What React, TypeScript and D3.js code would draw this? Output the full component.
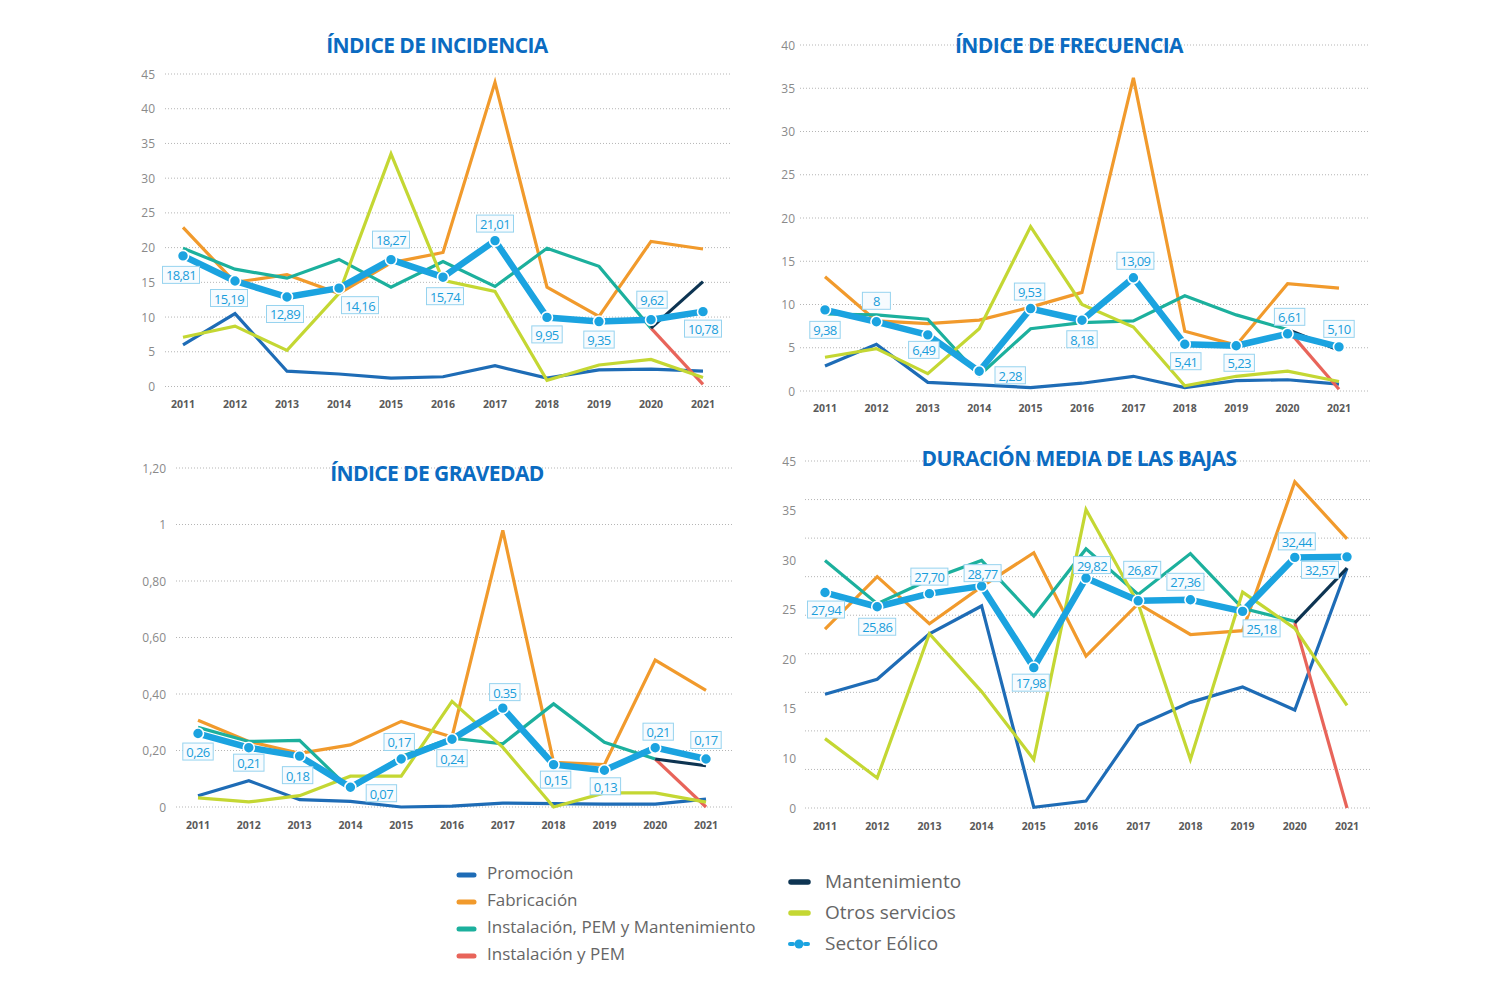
import React from "react";
import * as d3 from "d3";

// ---------- shared categories ----------
const years = ["2011", "2012", "2013", "2014", "2015", "2016", "2017", "2018", "2019", "2020", "2021"];
const seriesNames = [
  "Promoción",
  "Fabricación",
  "Instalación, PEM y Mantenimiento",
  "Instalación y PEM",
  "Mantenimiento",
  "Otros servicios",
  "Sector Eólico",
];
const seriesColors = ["#1e6cb6", "#f19a2c", "#1cb09d", "#e8645a", "#0d3452", "#c4d733", "#1ba3e0"];

// ---------- ÍNDICE DE INCIDENCIA ----------
const incPromocion = [6.0, 10.5, 2.2, 1.8, 1.2, 1.4, 3.0, 1.2, 2.4, 2.5, 2.2];
const incFabricacion = [22.9, 15.0, 16.1, 13.4, 17.8, 19.3, 43.8, 14.3, 10.1, 20.9, 19.8];
const incInstPemMant = [19.9, 16.9, 15.6, 18.3, 14.3, 18.0, 14.4, 19.9, 17.3, 8.4, null];
const incInstPem = [null, null, null, null, null, null, null, null, null, 8.4, 0.3];
const incMantenimiento = [null, null, null, null, null, null, null, null, null, 8.4, 15.1];
const incOtros = [7.1, 8.7, 5.2, 13.4, 33.5, 15.3, 13.7, 0.9, 3.1, 3.9, 1.3];
const incSector = [18.81, 15.19, 12.89, 14.16, 18.27, 15.74, 21.01, 9.95, 9.35, 9.62, 10.78];
const incSectorLabels = ["18,81", "15,19", "12,89", "14,16", "18,27", "15,74", "21,01", "9,95", "9,35", "9,62", "10,78"];
const incTicks = [0, 5, 10, 15, 20, 25, 30, 35, 40, 45];
const incTickLabels = ["0", "5", "10", "15", "20", "25", "30", "35", "40", "45"];

// ---------- ÍNDICE DE FRECUENCIA ----------
const frePromocion = [2.9, 5.4, 1.0, 0.7, 0.4, 0.9, 1.7, 0.4, 1.2, 1.3, 0.8];
const freFabricacion = [13.2, 8.1, 7.8, 8.2, 9.7, 11.4, 36.2, 6.9, 5.3, 12.4, 11.9];
const freInstPemMant = [8.9, 8.8, 8.3, 1.8, 7.2, 7.9, 8.1, 11.0, 8.8, 7.1, null];
const freInstPem = [null, null, null, null, null, null, null, null, null, 7.1, 0.2];
const freMantenimiento = [null, null, null, null, null, null, null, null, null, 7.1, 4.7];
const freOtros = [3.9, 4.9, 2.0, 7.2, 19.0, 10.0, 7.4, 0.6, 1.7, 2.3, 1.1];
const freSector = [9.38, 8, 6.49, 2.28, 9.53, 8.18, 13.09, 5.41, 5.23, 6.61, 5.1];
const freSectorLabels = ["9,38", "8", "6,49", "2,28", "9,53", "8,18", "13,09", "5,41", "5,23", "6,61", "5,10"];
const freTicks = [0, 5, 10, 15, 20, 25, 30, 35, 40];
const freTickLabels = ["0", "5", "10", "15", "20", "25", "30", "35", "40"];

// ---------- ÍNDICE DE GRAVEDAD ----------
const graPromocion = [0.04, 0.093, 0.026, 0.02, 0.0, 0.003, 0.014, 0.012, 0.01, 0.01, 0.028];
const graFabricacion = [0.307, 0.232, 0.19, 0.22, 0.303, 0.248, 0.979, 0.158, 0.15, 0.52, 0.413];
const graInstPemMant = [0.282, 0.232, 0.236, 0.061, 0.179, 0.244, 0.224, 0.365, 0.229, 0.17, null];
const graInstPem = [null, null, null, null, null, null, null, null, null, 0.17, 0.0];
const graMantenimiento = [null, null, null, null, null, null, null, null, null, 0.17, 0.146];
const graOtros = [0.032, 0.018, 0.04, 0.109, 0.109, 0.374, 0.211, 0.0, 0.05, 0.05, 0.017];
const graSector = [0.26, 0.21, 0.18, 0.07, 0.17, 0.24, 0.35, 0.15, 0.13, 0.21, 0.17];
const graSectorLabels = ["0,26", "0,21", "0,18", "0,07", "0,17", "0,24", "0.35", "0,15", "0,13", "0,21", "0,17"];
const graTicks = [0, 0.2, 0.4, 0.6, 0.8, 1, 1.2];
const graTickLabels = ["0", "0,20", "0,40", "0,60", "0,80", "1", "1,20"];

// ---------- DURACIÓN MEDIA DE LAS BAJAS ----------
const durPromocion = [14.75, 16.7, 22.6, 26.2, 0.1, 0.9, 10.7, 13.7, 15.7, 12.7, 31.1];
const durFabricacion = [23.2, 30.0, 23.9, 28.7, 33.1, 19.7, 26.5, 22.5, 23.0, 42.3, 34.9];
const durInstPemMant = [32.1, 26.5, 29.6, 32.1, 24.9, 33.6, 27.7, 33.0, 25.9, 24.2, null];
const durInstPem = [null, null, null, null, null, null, null, null, null, 24.0, 0.0];
const durMantenimiento = [null, null, null, null, null, null, null, null, null, 24.0, 31.1];
const durOtros = [9.0, 3.9, 22.6, 15.1, 6.3, 38.7, 26.5, 6.3, 28.0, 23.3, 13.3];
// plotted positions of the Sector Eólico line as drawn in the source
const durSector = [27.94, 26.1, 27.8, 28.77, 18.2, 29.82, 26.87, 27.0, 25.5, 32.5, 32.57];
const durSectorLabels = ["27,94", "25,86", "27,70", "28,77", "17,98", "29,82", "26,87", "27,36", "25,18", "32,44", "32,57"];
const durGridTicks = [0, 5, 10, 15, 20, 25, 30, 35, 40, 45];
const durTickLabels = ["45", "35", "30", "25", "20", "15", "10", "0"];

// ---------- layout (positions only) ----------
type Layout = {
  title: string;
  titleX: number;
  titleY: number;
  xRange: [number, number];
  yRange: [number, number];
  gridX: [number, number];
  tickX: number;
  yearY: number;
  labelOffsets: [number, number][];
};

const layouts: Layout[] = [
  {
    title: "ÍNDICE DE INCIDENCIA",
    titleX: 437,
    titleY: 45,
    xRange: [183, 703],
    yRange: [386.5, 74],
    gridX: [165, 731],
    tickX: 155,
    yearY: 404,
    labelOffsets: [[-2, 19], [-6, 17], [-2, 17], [21, 17], [0, -20], [2, 19], [0, -17], [0, 17], [0, 18], [1, -20], [0, 17]],
  },
  {
    title: "ÍNDICE DE FRECUENCIA",
    titleX: 1069,
    titleY: 45,
    xRange: [825, 1339],
    yRange: [391, 45],
    gridX: [800, 1370],
    tickX: 795,
    yearY: 408,
    labelOffsets: [[0, 20], [0, -21], [-4, 15], [31, 4], [-1, -17], [0, 19], [2, -17], [1, 17], [3, 17], [2, -17], [0, -18]],
  },
  {
    title: "ÍNDICE DE GRAVEDAD",
    titleX: 437,
    titleY: 473,
    xRange: [198, 706],
    yRange: [807, 468],
    gridX: [176, 733],
    tickX: 166,
    yearY: 825,
    labelOffsets: [[0, 18], [0, 15], [-2, 19], [31, 6], [-2, -17], [0, 19], [2, -16], [2, 15], [1, 16], [3, -16], [0, -19]],
  },
  {
    title: "DURACIÓN MEDIA DE LAS BAJAS",
    titleX: 1079,
    titleY: 458,
    xRange: [825, 1347],
    yRange: [808, 461],
    gridX: [805, 1372],
    tickX: 796,
    yearY: 826,
    labelOffsets: [[1, 17], [0, 20], [0, -17], [1, -13], [-3, 15], [6, -13], [4, -31], [-5, -18], [19, 17], [2, -16], [-27, 13]],
  },
];

type PanelData = {
  series: (number | null)[][];
  sector: number[];
  sectorLabels: string[];
  yMax: number;
  gridTicks: number[];
  tickValues: number[] | null;
  tickLabels: string[];
};

const panels: PanelData[] = [
  {
    series: [incPromocion, incFabricacion, incInstPemMant, incInstPem, incMantenimiento, incOtros],
    sector: incSector,
    sectorLabels: incSectorLabels,
    yMax: 45,
    gridTicks: incTicks,
    tickValues: incTicks,
    tickLabels: incTickLabels,
  },
  {
    series: [frePromocion, freFabricacion, freInstPemMant, freInstPem, freMantenimiento, freOtros],
    sector: freSector,
    sectorLabels: freSectorLabels,
    yMax: 40,
    gridTicks: freTicks,
    tickValues: freTicks,
    tickLabels: freTickLabels,
  },
  {
    series: [graPromocion, graFabricacion, graInstPemMant, graInstPem, graMantenimiento, graOtros],
    sector: graSector,
    sectorLabels: graSectorLabels,
    yMax: 1.2,
    gridTicks: graTicks,
    tickValues: graTicks,
    tickLabels: graTickLabels,
  },
  {
    series: [durPromocion, durFabricacion, durInstPemMant, durInstPem, durMantenimiento, durOtros],
    sector: durSector,
    sectorLabels: durSectorLabels,
    yMax: 45,
    gridTicks: durGridTicks,
    tickValues: null,
    tickLabels: durTickLabels,
  },
];

const FONT = "'Open Sans', 'DejaVu Sans', sans-serif";

function Panel({ data, layout }: { data: PanelData; layout: Layout }) {
  const x = d3.scalePoint<string>().domain(years).range(layout.xRange);
  const y = d3.scaleLinear().domain([0, data.yMax]).range(layout.yRange);
  const line = d3
    .line<number | null>()
    .defined((d) => d !== null)
    .x((_, i) => x(years[i]) as number)
    .y((d) => y(d as number));

  // Tick labels: on the value scale, or evenly spread as in the reference
  const labelScale = d3.scalePoint<string>().domain(data.tickLabels).range([layout.yRange[1], layout.yRange[0]]);

  return (
    <g>
      {data.gridTicks.map((t) => (
        <line
          key={"g" + t}
          x1={layout.gridX[0]}
          x2={layout.gridX[1]}
          y1={y(t)}
          y2={y(t)}
          stroke="#b5b5b5"
          strokeWidth={1}
          strokeDasharray="1,2"
        />
      ))}
      {data.tickValues
        ? data.tickValues.map((t, i) => (
            <text
              key={"t" + t}
              x={layout.tickX}
              y={y(t)}
              textAnchor="end"
              dominantBaseline="central"
              fontSize={12}
              fill="#8a8a8a"
              fontFamily={FONT}
            >
              {data.tickLabels[i]}
            </text>
          ))
        : data.tickLabels.map((lab) => (
            <text
              key={"t" + lab}
              x={layout.tickX}
              y={labelScale(lab)}
              textAnchor="end"
              dominantBaseline="central"
              fontSize={12}
              fill="#8a8a8a"
              fontFamily={FONT}
            >
              {lab}
            </text>
          ))}
      {years.map((yr) => (
        <text
          key={"x" + yr}
          x={x(yr)}
          y={layout.yearY}
          textAnchor="middle"
          dominantBaseline="central"
          fontSize={10.5}
          fontWeight={700}
          fill="#5a5a5a"
          fontFamily={FONT}
        >
          {yr}
        </text>
      ))}
      <text
        x={layout.titleX}
        y={layout.titleY}
        textAnchor="middle"
        dominantBaseline="central"
        fontSize={21}
        fontWeight={700}
        fill="#0b6bc1"
        fontFamily={FONT}
        letterSpacing={-0.6}
      >
        {layout.title}
      </text>
      {data.series.map((s, si) => (
        <path
          key={"s" + si}
          d={line(s) || ""}
          fill="none"
          stroke={seriesColors[si]}
          strokeWidth={3.2}
          strokeLinejoin="miter"
          strokeLinecap="butt"
        />
      ))}
      <path d={line(data.sector) || ""} fill="none" stroke={seriesColors[6]} strokeWidth={6.5} strokeLinejoin="round" />
      {data.sector.map((v, i) => (
        <circle
          key={"c" + i}
          cx={x(years[i])}
          cy={y(v)}
          r={5.5}
          fill={seriesColors[6]}
          stroke="#ffffff"
          strokeWidth={1.6}
        />
      ))}
      {data.sectorLabels.map((lab, i) => {
        const cx = (x(years[i]) as number) + layout.labelOffsets[i][0];
        const cy = y(data.sector[i]) + layout.labelOffsets[i][1];
        const w = Math.max(lab.length * 6.6 + 4, 28);
        return (
          <g key={"l" + i}>
            <rect x={cx - w / 2} y={cy - 8.5} width={w} height={17} fill="#f7fbfe" stroke="#96d3ef" strokeWidth={1} />
            <text
              x={cx}
              y={cy + 0.5}
              textAnchor="middle"
              dominantBaseline="central"
              fontSize={13}
              fill="#1a9edb"
              fontFamily={FONT}
              letterSpacing={-0.6}
            >
              {lab}
            </text>
          </g>
        );
      })}
    </g>
  );
}

const legendLeft = [0, 1, 2, 3];
const legendRight = [4, 5, 6];

function Legend() {
  const leftY = d3.scalePoint<number>().domain(legendLeft).range([872, 953]);
  const rightY = d3.scalePoint<number>().domain(legendRight).range([881, 943]);
  return (
    <g>
      {legendLeft.map((si) => (
        <g key={"ll" + si}>
          <line
            x1={459}
            x2={474}
            y1={leftY(si)! + 3}
            y2={leftY(si)! + 3}
            stroke={seriesColors[si]}
            strokeWidth={5}
            strokeLinecap="round"
          />
          <text x={487} y={leftY(si)} dominantBaseline="central" fontSize={17} fill="#666666" fontFamily={FONT}>
            {seriesNames[si]}
          </text>
        </g>
      ))}
      {legendRight.map((si) =>
        si === 6 ? (
          <g key={"lr" + si}>
            <circle cx={799} cy={rightY(si)! + 1} r={4.5} fill={seriesColors[si]} />
            <line x1={790} x2={793} y1={rightY(si)! + 1} y2={rightY(si)! + 1} stroke={seriesColors[si]} strokeWidth={4} strokeLinecap="round" />
            <line x1={805} x2={808} y1={rightY(si)! + 1} y2={rightY(si)! + 1} stroke={seriesColors[si]} strokeWidth={4} strokeLinecap="round" />
            <text x={825} y={rightY(si)} dominantBaseline="central" fontSize={19} fill="#666666" fontFamily={FONT}>
              {seriesNames[si]}
            </text>
          </g>
        ) : (
          <g key={"lr" + si}>
            <line
              x1={791}
              x2={808}
              y1={rightY(si)! + 1}
              y2={rightY(si)! + 1}
              stroke={seriesColors[si]}
              strokeWidth={5.5}
              strokeLinecap="round"
            />
            <text x={825} y={rightY(si)} dominantBaseline="central" fontSize={19} fill="#666666" fontFamily={FONT}>
              {seriesNames[si]}
            </text>
          </g>
        )
      )}
    </g>
  );
}

export default function App() {
  return (
    <svg
      width={1500}
      height={1000}
      viewBox="0 0 1500 1000"
      style={{ position: "absolute", left: 0, top: 0, background: "#ffffff" }}
    >
      <rect x={0} y={0} width={1500} height={1000} fill="#ffffff" />
      {panels.map((p, i) => (
        <Panel key={i} data={p} layout={layouts[i]} />
      ))}
      <Legend />
    </svg>
  );
}
